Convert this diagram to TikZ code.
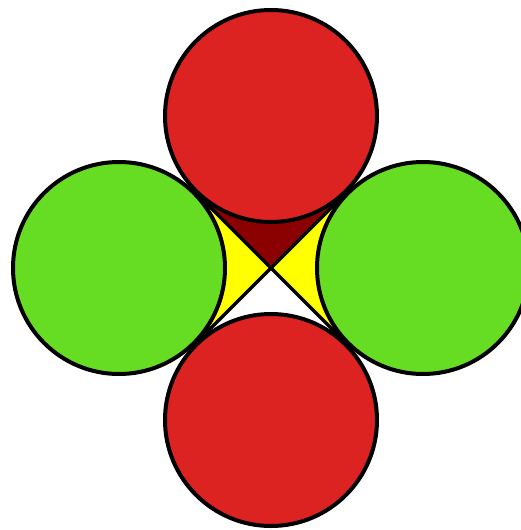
\documentclass[tikz,border=0pt]{standalone}
\definecolor{cred}{HTML}{DD2222}
\definecolor{cgreen}{HTML}{66DD22}
\definecolor{cdark}{HTML}{8B0000}
\definecolor{cyel}{HTML}{FFFF00}
\begin{document}
\begin{tikzpicture}[x=1pt,y=1pt,
  ball/.style={draw=black,line width=4pt},
  xline/.style={draw=black,line width=3.5pt}]
\useasboundingbox (0,0) rectangle (521,-530);
\clip (0,0) rectangle (521,-530);
\coordinate (O) at (271,-268);
\coordinate (T) at (271,-116);
\coordinate (B) at (271,-420);
\coordinate (L) at (119,-268);
\coordinate (R) at (423,-268);
\coordinate (TL) at (195,-192);
\coordinate (TR) at (347,-192);
\coordinate (BL) at (195,-344);
\coordinate (BR) at (347,-344);
% center fills
\fill[cdark] (O) -- (TL) -- (T) -- (TR) -- cycle;
\fill[cyel] (O) -- (TL) -- (L) -- (BL) -- cycle;
\fill[cyel] (O) -- (TR) -- (R) -- (BR) -- cycle;
\fill[white] (O) -- (BL) -- (B) -- (BR) -- cycle;
\draw[xline] (TL) -- (BR);
\draw[xline] (TR) -- (BL);
% circles
\path[ball,fill=cgreen] (L) circle[radius=106];
\path[ball,fill=cgreen] (R) circle[radius=106];
\path[ball,fill=cred] (T) circle[radius=106];
\path[ball,fill=cred] (B) circle[radius=106];
\end{tikzpicture}
\end{document}
